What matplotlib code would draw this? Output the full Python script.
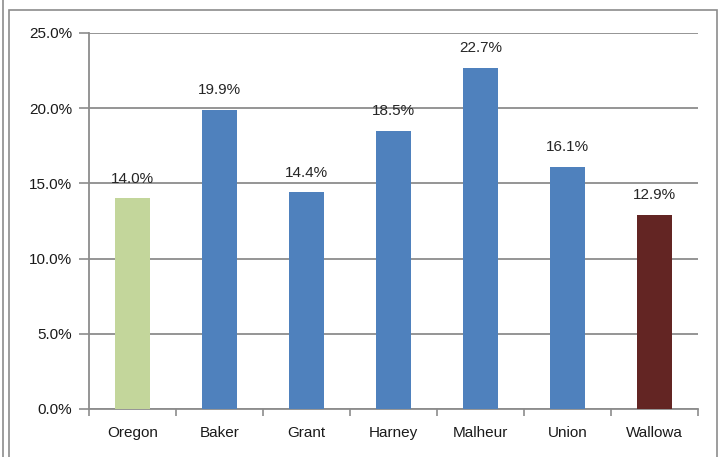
import matplotlib.pyplot as plt
from matplotlib.patches import Rectangle
from matplotlib.lines import Line2D
from matplotlib.ticker import FuncFormatter

# datos del grafico
condados = ['Oregon', 'Baker', 'Grant', 'Harney', 'Malheur', 'Union', 'Wallowa']
porcentajes = [14.0, 19.9, 14.4, 18.5, 22.7, 16.1, 12.9]
colores = ['#C3D69B', '#4F81BD', '#4F81BD', '#4F81BD', '#4F81BD', '#4F81BD', '#632523']

plt.rcParams['font.family'] = ['Liberation Sans', 'DejaVu Sans']

fig = plt.figure(figsize=(7.21, 4.57), dpi=100)
ax = fig.add_axes([89 / 721, 1 - 409 / 457, 609 / 721, 376 / 457])

x = range(len(condados))
ax.bar(x, porcentajes, width=0.41, color=colores, zorder=3)

for i, v in zip(x, porcentajes):
    ax.annotate('%.1f%%' % v, (i, v), xytext=(0, 9), textcoords='offset points',
                ha='center', va='bottom', fontsize=11, color='#262626')

ax.set_ylim(0, 25)
ax.set_xlim(-0.5, len(condados) - 0.5)
ax.set_yticks([0, 5, 10, 15, 20, 25])
ax.yaxis.set_major_formatter(FuncFormatter(lambda v, p: '%.1f%%' % v))
ax.grid(axis='y', color='#8C8C8C', linewidth=1.3, zorder=0)

# ticks del eje x entre categorias, etiquetas centradas
ax.set_xticks([i + 0.5 for i in range(-1, len(condados))])
ax.set_xticklabels([])
ax.set_xticks(list(x), minor=True)
ax.set_xticklabels(condados, minor=True)
ax.tick_params(axis='x', which='major', length=5, color='#8C8C8C', width=1.2)
ax.tick_params(axis='x', which='minor', length=0, pad=12, labelsize=11, labelcolor='#1A1A1A')
ax.tick_params(axis='y', length=7, color='#8C8C8C', width=1.2, labelsize=11,
               labelcolor='#1A1A1A', pad=5)

for lado in ['top', 'right']:
    ax.spines[lado].set_visible(False)
for lado in ['left', 'bottom']:
    ax.spines[lado].set_color('#8C8C8C')
    ax.spines[lado].set_linewidth(1.3)

# marco exterior del grafico
fig.patches.append(Rectangle((9 / 721, -0.05), 708 / 721, 1.05 - 10 / 457,
                             transform=fig.transFigure, fill=False,
                             edgecolor='#8C8C8C', linewidth=1.2))
fig.lines.append(Line2D([3 / 721, 3 / 721], [0, 1], transform=fig.transFigure,
                        color='#8C8C8C', linewidth=1.2))

fig.savefig('out.png', dpi=100)
